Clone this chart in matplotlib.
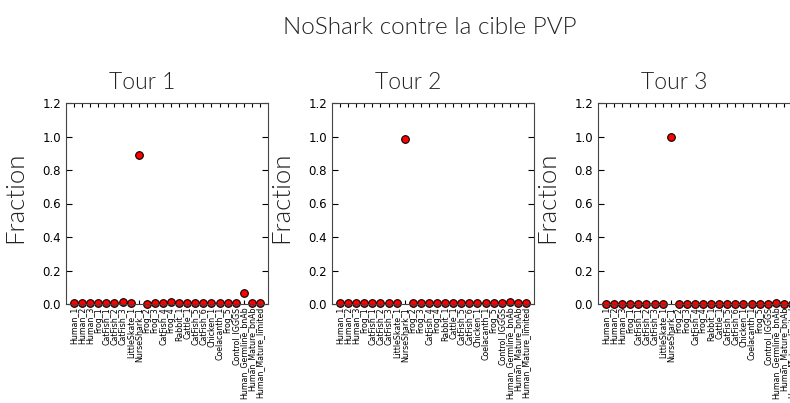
import matplotlib.pyplot as plt
import numpy as np

plt.rcParams['font.family'] = ['Lato', 'DejaVu Sans']

# clone families on the x axis
labels = ['Human_1', 'Human_2', 'Human_3', 'Frog_1', 'CatFish_1', 'CatFish_2',
          'CatFish_3', 'LittleSkate_1', 'NurseShark_1', 'Frog_2', 'Frog_3',
          'CatFish_4', 'Frog_4', 'Rabbit_1', 'Cattle_1', 'CatFish_5', 'CatFish_6',
          'Chicken_1', 'Coelacanth_1', 'Frog_5', 'Control_IGGGS',
          'Human_Germline_bnAb', 'Human_Mature_bnAb', 'Human_Mature_limited']

# fraction per round
tour1 = [0.004, 0.004, 0.004, 0.004, 0.005, 0.005, 0.010, 0.006, 0.89, 0.001,
         0.004, 0.004, 0.009, 0.005, 0.004, 0.005, 0.006, 0.006, 0.005, 0.004,
         0.003, 0.065, 0.004, 0.004]
tour2 = [0.003, 0.003, 0.003, 0.003, 0.003, 0.003, 0.003, 0.003, 0.985, 0.003,
         0.003, 0.003, 0.003, 0.003, 0.003, 0.003, 0.003, 0.003, 0.003, 0.003,
         0.004, 0.012, 0.004, 0.003]
tour3 = [0.002, 0.002, 0.002, 0.002, 0.002, 0.002, 0.002, 0.002, 0.995, 0.002,
         0.002, 0.002, 0.002, 0.002, 0.002, 0.002, 0.002, 0.002, 0.002, 0.002,
         0.002, 0.003, 0.002, 0.002]
tours = [('Tour 1', tour1), ('Tour 2', tour2), ('Tour 3', tour3)]

fig = plt.figure(figsize=(7.9, 4.03), dpi=100)
fig.text(0.544, 0.933, 'NoShark contre la cible PVP', ha='center', va='center',
         fontsize=17.5, fontweight=300, color='#222222')

x = np.arange(len(labels))
lefts = [66, 332, 598]
for left, (name, vals) in zip(lefts, tours):
    ax = fig.add_axes([left / 790, 1 - 304 / 403, 202 / 790, 201 / 403])
    ax.plot(x, vals, 'o', color='red', markeredgecolor='black',
            markeredgewidth=0.8, markersize=5.5, clip_on=False)
    ax.set_xlim(-1, len(labels))
    ax.set_ylim(0, 1.2)
    ax.set_xticks(x)
    ax.set_xticklabels(labels, rotation=90, fontsize=5.7, family='DejaVu Sans')
    yt = np.arange(0, 1.21, 0.2)
    ax.set_yticks(yt)
    ax.set_yticklabels(['%.1f' % v for v in yt], family='DejaVu Sans',
                       fontsize=8.5)
    ax.tick_params(direction='in', top=True, right=True, length=4, width=0.8)
    ax.tick_params(axis='x', length=3, pad=2)
    for s in ax.spines.values():
        s.set_linewidth(0.8)
        s.set_color('#444444')
    ax.set_title(name, x=0.375, fontsize=16.5, fontweight=300, pad=10,
                 color='#222222')
    ax.set_ylabel('Fraction', fontsize=18.5, fontweight=300, color='#222222')
    ax.yaxis.set_label_coords(-0.19, 0.53)

fig.savefig('out.png', dpi=100)
